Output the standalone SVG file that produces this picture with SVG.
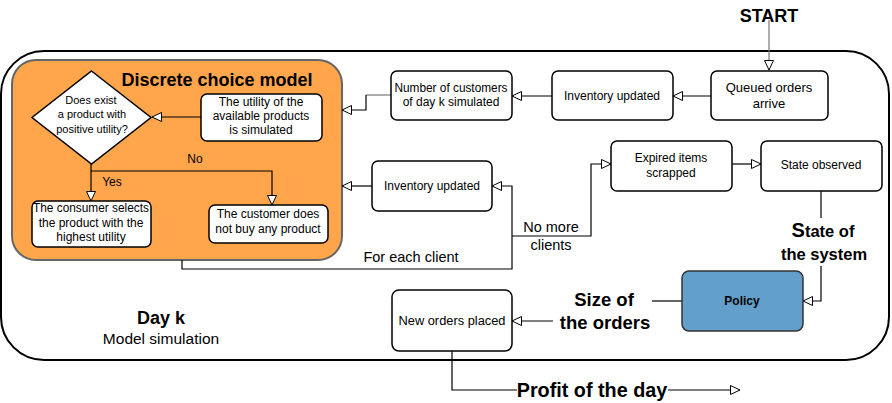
<svg xmlns="http://www.w3.org/2000/svg" width="892" height="403" viewBox="0 0 892 403">
<defs>
<style>
text{font-family:"Liberation Sans",Arial,Helvetica,sans-serif;fill:#000;text-anchor:middle}
.box{fill:#fff;stroke:#000;stroke-width:1.5}
.t12{font-size:12px}
.t11{font-size:11px}
.big{font-size:18px;font-weight:bold}
.c{fill:none;stroke:#000;stroke-width:1.2}
.g{stroke:#777}
</style>
<marker id="arr" markerWidth="12" markerHeight="12" refX="11" refY="6" orient="auto" markerUnits="userSpaceOnUse">
<path d="M1.5,1.5 L11,6 L1.5,10.5 Z" fill="#fff" stroke="#000" stroke-width="1"/>
</marker>
</defs>
<rect id="frame" x="1" y="51" width="888" height="309" rx="43" fill="#fff" stroke="#000" stroke-width="2"/>
<g id="orange">
<rect x="12" y="60" width="330" height="200" rx="24" fill="#FFA64D" stroke="#666" stroke-width="2"/>
<text x="217" y="86" class="big">Discrete choice model</text>
</g>
<g id="connectors">
<path class="c g" d="M769,20 V70" marker-end="url(#arr)"/>
<path class="c" d="M711,96 H673" marker-end="url(#arr)"/>
<path class="c" d="M552,96 H512" marker-end="url(#arr)"/>
<path class="c g" d="M391,95 H366"/>
<path class="c" d="M366,95 V110 H342" marker-end="url(#arr)"/>
<path class="c" d="M201,117 H152" marker-end="url(#arr)"/>
<path class="c" d="M91,164 V201" marker-end="url(#arr)"/>
<path class="c" d="M91,171 H272 V205" marker-end="url(#arr)"/>
<path class="c" d="M372,186 H342" marker-end="url(#arr)"/>
<path class="c" d="M182,260 V269 H512 V186 H492" marker-end="url(#arr)"/>
<path class="c" d="M512,236 H591 V164 H611" marker-end="url(#arr)"/>
<path class="c" d="M732,164 H761" marker-end="url(#arr)"/>
<path class="c" d="M821,191 V218"/>
<path class="c" d="M821,266 V301 H803" marker-end="url(#arr)"/>
<path class="c" d="M682,301 H652"/>
<path class="c" d="M553,321 H512" marker-end="url(#arr)"/>
<path class="c" d="M452,351 V390 H517"/>
<path class="c" d="M668,390 H740" marker-end="url(#arr)"/>
</g>
<g id="decision">
<path d="M91.5,71 L151,117.5 L91.5,164 L32,117.5 Z" fill="#fff" stroke="#000" stroke-width="1.5"/>
<text class="t11" x="91" y="104">Does exist</text>
<text class="t11" x="92" y="118">a product with</text>
<text class="t11" x="92" y="133">positive utility?</text>
</g>
<g id="utility">
<rect class="box" x="201" y="94" width="121" height="47" rx="6"/>
<text class="t12" x="261" y="106">The utility of the</text>
<text class="t12" x="261" y="120">available products</text>
<text class="t12" x="261" y="134">is simulated</text>
</g>
<g id="consumer">
<rect class="box" x="32" y="201" width="119" height="46" rx="6"/>
<text class="t12" x="91" y="212" textLength="116" lengthAdjust="spacingAndGlyphs">The consumer selects</text>
<text class="t12" x="91" y="227">the product with the</text>
<text class="t12" x="91" y="241">highest utility</text>
</g>
<g id="customer">
<rect class="box" x="209" y="205" width="119" height="38" rx="6"/>
<text class="t12" x="268" y="218">The customer does</text>
<text class="t12" x="268" y="233">not buy any product</text>
</g>
<text class="t12" x="195" y="163">No</text>
<text class="t12" x="112" y="186">Yes</text>
<g id="numcust">
<rect class="box" x="391" y="71" width="121" height="49" rx="6"/>
<text class="t12" x="451" y="92" textLength="113" lengthAdjust="spacingAndGlyphs">Number of customers</text>
<text class="t12" x="451" y="106">of day k simulated</text>
</g>
<g id="inv1">
<rect class="box" x="552" y="71" width="121" height="49" rx="6"/>
<text class="t12" x="612" y="100">Inventory updated</text>
</g>
<g id="queued">
<rect class="box" x="711" y="71" width="117" height="49" rx="6"/>
<text x="769" y="92" style="font-size:13px">Queued orders</text>
<text x="769" y="108" style="font-size:13px">arrive</text>
</g>
<text id="start" x="769" y="22" class="big">START</text>
<g id="inv2">
<rect class="box" x="372" y="161" width="120" height="50" rx="6"/>
<text class="t12" x="432" y="190">Inventory updated</text>
</g>
<g id="expired">
<rect class="box" x="611" y="141" width="121" height="50" rx="6"/>
<text class="t12" x="671" y="162">Expired items</text>
<text class="t12" x="671" y="177">scrapped</text>
</g>
<g id="state">
<rect class="box" x="761" y="141" width="121" height="50" rx="6"/>
<text class="t12" x="821" y="169">State observed</text>
</g>
<g id="policy">
<rect x="682" y="271" width="121" height="60" rx="7" fill="#629FCA" stroke="#333" stroke-width="1.5"/>
<text x="742" y="305" style="font-size:12px;font-weight:bold">Policy</text>
</g>
<g id="neworders">
<rect class="box" x="392" y="290" width="120" height="61" rx="7"/>
<text x="452" y="325" style="font-size:12px" textLength="107" lengthAdjust="spacingAndGlyphs">New orders placed</text>
</g>
<text x="551" y="232" style="font-size:14.5px">No more</text>
<text x="551" y="250" style="font-size:14.5px">clients</text>
<text x="411" y="262" style="font-size:14.5px">For each client</text>
<text x="823" y="237" style="font-size:16.5px;font-weight:bold"><tspan style="font-size:20px">S</tspan>tate of</text>
<text x="824" y="260" style="font-size:16.5px;font-weight:bold">the system</text>
<text x="604" y="306" style="font-size:18.5px;font-weight:bold">Size of</text>
<text x="605" y="329" style="font-size:18.5px;font-weight:bold">the orders</text>
<text x="592" y="397" style="font-size:19.8px;font-weight:bold">Profit of the day</text>
<text x="161" y="324" class="big">Day k</text>
<text x="161" y="344" style="font-size:15.5px">Model simulation</text>
</svg>
